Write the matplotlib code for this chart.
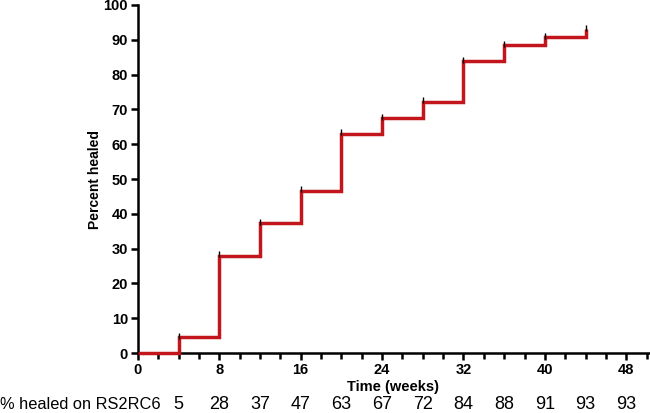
import matplotlib.pyplot as plt
from matplotlib.ticker import MultipleLocator

# Zeitpunkte (Wochen) und Anteil geheilt (%)
wochen = [0, 4, 8, 12, 16, 20, 24, 28, 32, 36, 40, 44]
geheilt = [0, 4.6, 28, 37.3, 46.6, 63, 67.5, 72.2, 83.8, 88.5, 90.8, 93]

# Tabelle unter der Achse
tabelle_wochen = [4, 8, 12, 16, 20, 24, 28, 32, 36, 40, 44, 48]
tabelle_werte = ["5", "28", "37", "47", "63", "67", "72", "84", "88", "91", "93", "93"]

plt.rcParams["font.family"] = ["Liberation Sans", "DejaVu Sans"]

fig = plt.figure(figsize=(6.5, 4.13), dpi=100)
ax = fig.add_axes([0.212, 0.145, 0.786, 0.843])

# Treppenkurve: Stufe jeweils am Zeitpunkt
xs = [wochen[0]]
ys = [geheilt[0]]
for i in range(1, len(wochen)):
    xs += [wochen[i], wochen[i]]
    ys += [geheilt[i - 1], geheilt[i]]
ax.plot(xs, ys, color="#c3161c", lw=2.5, solid_capstyle="butt", solid_joinstyle="miter",
        clip_on=False, zorder=3)
# kleine schwarze Markierungen oben an jeder Stufe
ax.plot(wochen[1:], [g + 0.4 for g in geheilt[1:]], ls="none", marker="|", color="black",
        ms=4, mew=1.0, zorder=4, clip_on=False)

ax.set_xlim(0, 50.2)
ax.set_ylim(0, 100)
ax.xaxis.set_major_locator(MultipleLocator(8))
ax.xaxis.set_minor_locator(MultipleLocator(2))
ax.yaxis.set_major_locator(MultipleLocator(10))

for s in ["top", "right"]:
    ax.spines[s].set_visible(False)
for s in ["left", "bottom"]:
    ax.spines[s].set_linewidth(1.8)

ax.tick_params(axis="both", which="major", direction="out", length=5, width=1.8,
               labelsize=10.5, pad=2)
ax.tick_params(axis="x", which="minor", direction="out", length=4, width=1.8)
for lab in ax.get_xticklabels() + ax.get_yticklabels():
    lab.set_fontweight("bold")

ax.set_ylabel("Percent healed", fontsize=10, fontweight="bold", labelpad=1)
ax.set_xlabel("Time (weeks)", fontsize=10.5, fontweight="bold", labelpad=2)

# Tabellenzeile
trans = ax.get_xaxis_transform()
for w, t in zip(tabelle_wochen, tabelle_werte):
    ax.text(w, -0.148, t, transform=trans, ha="center", va="center", fontsize=13, clip_on=False)
fig.text(0.0, 0.02, "% healed on RS2RC6", ha="left", va="center", fontsize=11.8)

fig.savefig("out.png", dpi=100)
